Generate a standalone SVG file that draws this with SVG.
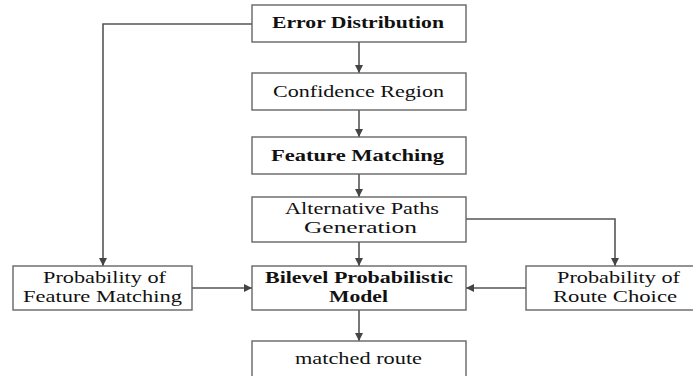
<svg xmlns="http://www.w3.org/2000/svg" width="693" height="376" viewBox="0 0 693 376">
<style>
.box{fill:#fff;stroke:#666;stroke-width:1.4}
.t{font-family:"Liberation Serif","Times New Roman",serif;font-size:17px;fill:#111}
.b{font-weight:bold;font-size:16px}
.c{fill:none;stroke:#555;stroke-width:1.6}
</style>
<defs>
<marker id="ah" viewBox="0 0 10 10" refX="10" refY="5" markerWidth="9" markerHeight="8" markerUnits="userSpaceOnUse" orient="auto">
<path d="M0,0 L10,5 L0,10 z" fill="#444"/>
</marker>
</defs>
<rect width="693" height="376" fill="#fff"/>
<g id="connectors">
<line class="c" x1="359" y1="42" x2="359" y2="73" marker-end="url(#ah)"/>
<line class="c" x1="359" y1="110" x2="359" y2="137" marker-end="url(#ah)"/>
<line class="c" x1="359" y1="174" x2="359" y2="197" marker-end="url(#ah)"/>
<line class="c" x1="359" y1="242" x2="359" y2="266" marker-end="url(#ah)"/>
<line class="c" x1="359" y1="310" x2="359" y2="341" marker-end="url(#ah)"/>
<polyline class="c" points="252,24 103,24 103,266" marker-end="url(#ah)"/>
<polyline class="c" points="466,219 615,219 615,266" marker-end="url(#ah)"/>
<line class="c" x1="192" y1="288" x2="252" y2="288" marker-end="url(#ah)"/>
<line class="c" x1="526" y1="288" x2="466" y2="288" marker-end="url(#ah)"/>
</g>
<g id="error-distribution">
<rect class="box" x="252" y="5" width="214" height="37"/>
<text class="t b" x="272" y="28" textLength="172" lengthAdjust="spacingAndGlyphs">Error Distribution</text>
</g>
<g id="confidence-region">
<rect class="box" x="252" y="73" width="214" height="37"/>
<text class="t" x="273" y="97" textLength="171" lengthAdjust="spacingAndGlyphs">Confidence Region</text>
</g>
<g id="feature-matching">
<rect class="box" x="252" y="137" width="214" height="37"/>
<text class="t b" x="271" y="161" textLength="173" lengthAdjust="spacingAndGlyphs">Feature Matching</text>
</g>
<g id="alternative-paths">
<rect class="box" x="252" y="197" width="214" height="45"/>
<text class="t" x="285" y="214" textLength="154" lengthAdjust="spacingAndGlyphs">Alternative Paths</text>
<text class="t" x="304" y="233" textLength="113" lengthAdjust="spacingAndGlyphs">Generation</text>
</g>
<g id="bilevel-model">
<rect class="box" x="252" y="266" width="214" height="44"/>
<text class="t b" x="265" y="283" textLength="188" lengthAdjust="spacingAndGlyphs">Bilevel Probabilistic</text>
<text class="t b" x="329" y="302" textLength="59" lengthAdjust="spacingAndGlyphs">Model</text>
</g>
<g id="matched-route">
<rect class="box" x="252" y="341" width="214" height="50"/>
<text class="t" x="295" y="364" textLength="127" lengthAdjust="spacingAndGlyphs">matched route</text>
</g>
<g id="prob-feature-matching">
<rect class="box" x="13" y="266" width="179" height="44"/>
<text class="t" x="43" y="283" textLength="123" lengthAdjust="spacingAndGlyphs">Probability of</text>
<text class="t" x="23" y="302" textLength="159" lengthAdjust="spacingAndGlyphs">Feature Matching</text>
</g>
<g id="prob-route-choice">
<rect class="box" x="526" y="266" width="180" height="44"/>
<text class="t" x="557" y="283" textLength="123" lengthAdjust="spacingAndGlyphs">Probability of</text>
<text class="t" x="553" y="302" textLength="124" lengthAdjust="spacingAndGlyphs">Route Choice</text>
</g>
</svg>
